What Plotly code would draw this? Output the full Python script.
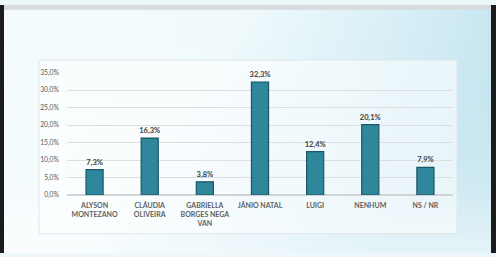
import plotly.graph_objects as go
import base64

categories = ["ALYSON<br>MONTEZANO", "CLÁUDIA<br>OLIVEIRA", "GABRIELLA<br>BORGES NEGA<br>VAN",
              "JÂNIO NATAL", "LUIGI", "NENHUM", "NS / NR"]
values = [7.3, 16.3, 3.8, 32.3, 12.4, 20.1, 7.9]
labels = ["7,3%", "16,3%", "3,8%", "32,3%", "12,4%", "20,1%", "7,9%"]
y_ticks = [0, 5, 10, 15, 20, 25, 30, 35]
y_ticktext = ["0,0%", "5,0%", "10,0%", "15,0%", "20,0%", "25,0%", "30,0%", "35,0%"]

W, H = 496, 257

svg = f'''<svg xmlns="http://www.w3.org/2000/svg" width="{W}" height="{H}">
<defs>
<linearGradient id="g" x1="0" y1="0" x2="1" y2="0.35">
<stop offset="0" stop-color="#f4fbfd"/>
<stop offset="0.45" stop-color="#f0fafc"/>
<stop offset="0.75" stop-color="#d6eef6"/>
<stop offset="1" stop-color="#bde2ee"/>
</linearGradient>
<linearGradient id="v" x1="0" y1="0" x2="0" y2="1">
<stop offset="0" stop-color="#ffffff" stop-opacity="0"/>
<stop offset="0.7" stop-color="#ffffff" stop-opacity="0.25"/>
<stop offset="1" stop-color="#ffffff" stop-opacity="0.6"/>
</linearGradient>
</defs>
<rect width="{W}" height="{H}" fill="url(#g)"/>
<rect width="{W}" height="{H}" fill="url(#v)"/>
<rect x="0" y="0" width="{W}" height="5" fill="#d8dcdd"/>
<rect x="0" y="0" width="4" height="{H}" fill="#1c1c1c"/>
<rect x="491" y="0" width="5" height="{H}" fill="#1c1c1c"/>
</svg>'''
src = "data:image/svg+xml;base64," + base64.b64encode(svg.encode()).decode()

fig = go.Figure()
fig.add_trace(go.Bar(
    x=categories, y=values, text=labels, textposition="outside",
    texttemplate="<b>%{text}</b>", constraintext="none",
    textfont=dict(size=7.5, color="#404040", family="Lato"),
    marker=dict(color="#2f879c", line=dict(color="#1b5566", width=1.2)),
    width=0.31, cliponaxis=False, hoverinfo="skip",
))

def px_x(p):
    return p / W

def px_y(p):
    return 1 - p / H

fig.update_layout(
    width=W, height=H,
    margin=dict(l=0, r=0, t=0, b=0),
    paper_bgcolor="#eef8fb",
    plot_bgcolor="rgba(0,0,0,0)",
    showlegend=False,
    bargap=0.69,
    images=[dict(source=src, xref="paper", yref="paper", x=0, y=1, sizex=1, sizey=1,
                 xanchor="left", yanchor="top", sizing="stretch", layer="below")],
    shapes=[dict(type="rect", xref="paper", yref="paper",
                 x0=px_x(39), x1=px_x(457), y0=px_y(237), y1=px_y(57),
                 fillcolor="rgba(255,255,255,0.55)", line=dict(color="#dfe6e8", width=1),
                 layer="below")],
    xaxis=dict(domain=[px_x(67), px_x(453)], showgrid=False, showline=False, zeroline=False,
               ticks="", tickfont=dict(size=7, color="#606060", family="Lato", weight="bold"),
               tickangle=0, fixedrange=True, ticklabelstandoff=5),
    yaxis=dict(domain=[px_y(197), px_y(70)], range=[0, 35], tickvals=y_ticks,
               ticktext=y_ticktext, showgrid=True, gridcolor="#dcdfe0", gridwidth=1,
               zeroline=True, zerolinecolor="#d0d4d6", showline=False,
               tickfont=dict(size=6.8, color="#595959", family="Lato"), ticks="",
               ticklabelstandoff=7),
)

fig.write_html("out.html")
